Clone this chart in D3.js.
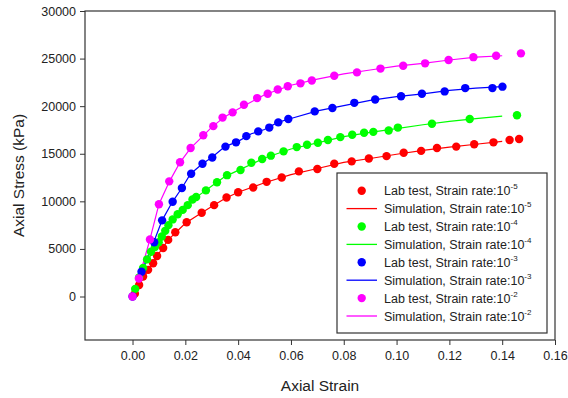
<!DOCTYPE html>
<html>
<head>
<meta charset="utf-8">
<script src="https://cdn.jsdelivr.net/npm/d3@7"></script>
<style>
  body { margin: 0; background: #fff; }
  svg text { font-family: "Liberation Sans", Arial, sans-serif; fill: #222; }
</style>
</head>
<body>
<div id="chart"></div>
<script>
// lab test points [strain, stress kPa]
const labRate5 = [[0.0009,300],[0.0025,1200],[0.004,2100],[0.0059,2800],[0.0078,3500],[0.0093,4250],[0.0116,5100],[0.0135,5950],[0.0162,6750],[0.0205,7800],[0.0262,8800],[0.0309,9600],[0.0356,10400],[0.04,10950],[0.0457,11450],[0.0508,12050],[0.0565,12500],[0.063,13150],[0.07,13400],[0.0764,13950],[0.083,14200],[0.0895,14500],[0.0962,14750],[0.1027,15100],[0.1093,15300],[0.1153,15600],[0.1226,15750],[0.1294,16000],[0.1367,16200],[0.1428,16450],[0.1464,16550]];
const labRate4 = [[0.001,800],[0.0025,2000],[0.004,3000],[0.0055,3900],[0.007,4700],[0.0085,5200],[0.0099,5700],[0.0111,6300],[0.0124,6900],[0.0136,7500],[0.0152,8100],[0.0171,8650],[0.019,9100],[0.0209,9600],[0.0227,10200],[0.0241,10450],[0.0278,11150],[0.032,12000],[0.0358,12750],[0.0409,13300],[0.045,14050],[0.0491,14450],[0.0524,14800],[0.0572,15250],[0.0622,15700],[0.0661,15950],[0.0702,16150],[0.074,16450],[0.0787,16750],[0.0832,17000],[0.0877,17200],[0.0912,17300],[0.097,17450],[0.1005,17750],[0.1134,18150],[0.1277,18650],[0.1456,19050]];
const labRate3 = [[0,0],[0.0034,2600],[0.0082,5700],[0.0112,8000],[0.0152,9950],[0.0187,11400],[0.0222,12900],[0.0265,13950],[0.0302,14600],[0.0352,15750],[0.0392,16200],[0.0431,16850],[0.0476,17350],[0.0518,17750],[0.0552,18300],[0.059,18650],[0.069,19450],[0.0757,19800],[0.084,20350],[0.0919,20700],[0.1017,21050],[0.1096,21300],[0.1182,21550],[0.126,21900],[0.1363,21900],[0.1401,22050]];
const labRate2 = [[0,0],[0.0024,1900],[0.0066,6000],[0.010,9700],[0.0139,12100],[0.018,14100],[0.022,15600],[0.0268,16950],[0.0306,17900],[0.0341,18800],[0.0379,19350],[0.0422,20150],[0.0472,20850],[0.0512,21300],[0.055,21750],[0.0588,22100],[0.0636,22400],[0.0679,22700],[0.0764,23200],[0.085,23550],[0.0939,23950],[0.1025,24250],[0.1108,24500],[0.1197,24850],[0.1291,25150],[0.1377,25300],[0.1471,25550]];

// simulation curves
const simRate5 = [[0,0],[0.0025,1200],[0.006,2850],[0.0093,4250],[0.0135,5950],[0.02,7700],[0.025,8600],[0.03,9450],[0.035,10300],[0.04,10950],[0.05,11950],[0.06,12800],[0.07,13450],[0.08,14100],[0.09,14500],[0.10,14950],[0.11,15350],[0.12,15700],[0.13,16000],[0.14,16300]];
const simRate4 = [[0,0],[0.004,3000],[0.0099,5700],[0.0124,6900],[0.015,8050],[0.02,9350],[0.025,10600],[0.03,11600],[0.035,12600],[0.04,13250],[0.05,14550],[0.06,15500],[0.07,16150],[0.08,16800],[0.09,17250],[0.10,17650],[0.11,18050],[0.12,18400],[0.13,18700],[0.14,18950]];
const simRate3 = [[0,0],[0.0034,2600],[0.008,5700],[0.0112,8000],[0.015,9900],[0.0187,11400],[0.022,12900],[0.0265,13950],[0.03,14600],[0.035,15750],[0.04,16300],[0.045,17100],[0.05,17550],[0.055,18300],[0.06,18700],[0.07,19500],[0.08,20050],[0.09,20600],[0.10,21000],[0.11,21300],[0.12,21650],[0.13,21900],[0.1401,22050]];
const simRate2 = [[0,0],[0.0024,1900],[0.0066,6000],[0.010,9700],[0.014,12100],[0.018,14100],[0.022,15600],[0.027,16950],[0.03,17800],[0.035,18900],[0.04,19700],[0.05,21200],[0.06,22200],[0.07,22850],[0.08,23400],[0.09,23800],[0.10,24200],[0.11,24500],[0.12,24850],[0.13,25150],[0.14,25300]];

const rateExps = ["-5", "-4", "-3", "-2"];
const colours = ["#ff0000", "#00ff00", "#0000ff", "#ff00ff"];
const xTicks = [0, 0.02, 0.04, 0.06, 0.08, 0.10, 0.12, 0.14, 0.16];
const yTicks = [0, 5000, 10000, 15000, 20000, 25000, 30000];

const labSets = [labRate5, labRate4, labRate3, labRate2];
const simSets = [simRate5, simRate4, simRate3, simRate2];

const width = 568, height = 398;
const plot = { left: 85, right: 555, top: 11, bottom: 340 };

const svg = d3.select("#chart").append("svg")
  .attr("width", width)
  .attr("height", height);

const x = d3.scaleLinear().domain([-0.018, 0.16]).range([plot.left, plot.right]);
const y = d3.scaleLinear().domain([-4570, 30000]).range([plot.bottom, plot.top]);

// axes (ticks outside the frame)
const xAxis = svg.append("g")
  .attr("transform", `translate(0,${plot.bottom})`)
  .call(d3.axisBottom(x).tickValues(xTicks).tickFormat(d3.format(".2f")).tickSize(5).tickPadding(6).tickSizeOuter(0));
const yAxis = svg.append("g")
  .attr("transform", `translate(${plot.left},0)`)
  .call(d3.axisLeft(y).tickValues(yTicks).tickFormat(d3.format("d")).tickSize(5).tickPadding(4).tickSizeOuter(0));

[xAxis, yAxis].forEach(a => {
  a.select(".domain").remove();
  a.selectAll(".tick line").attr("stroke", "#333");
  a.selectAll(".tick text").style("font-size", "12.5px").attr("fill", "#222");
});

// frame
svg.append("rect")
  .attr("x", plot.left).attr("y", plot.top)
  .attr("width", plot.right - plot.left)
  .attr("height", plot.bottom - plot.top)
  .attr("fill", "none")
  .attr("stroke", "#333")
  .attr("stroke-width", 1.2);

const line = d3.line()
  .x(d => x(d[0]))
  .y(d => y(d[1]));

// simulation lines
svg.append("g").selectAll("path")
  .data(simSets)
  .join("path")
  .attr("d", line)
  .attr("fill", "none")
  .attr("stroke", (d, i) => colours[i])
  .attr("stroke-width", 1.2);

// lab points
labSets.forEach((set, i) => {
  svg.append("g").selectAll("circle")
    .data(set)
    .join("circle")
    .attr("cx", d => x(d[0]))
    .attr("cy", d => y(d[1]))
    .attr("r", 4.2)
    .attr("fill", colours[i]);
});

// axis titles
svg.append("text")
  .attr("x", (plot.left + plot.right) / 2)
  .attr("y", 391)
  .attr("text-anchor", "middle")
  .style("font-size", "15.5px")
  .text("Axial Strain");

svg.append("text")
  .attr("transform", `translate(24,${(plot.top + plot.bottom) / 2}) rotate(-90)`)
  .attr("text-anchor", "middle")
  .style("font-size", "15.5px")
  .text("Axial Stress (kPa)");

// legend
const legend = svg.append("g");
legend.append("rect")
  .attr("x", 337).attr("y", 173)
  .attr("width", 210).attr("height", 160)
  .attr("fill", "#fff")
  .attr("stroke", "#333")
  .attr("stroke-width", 1.2);

const rows = [];
rateExps.forEach((e, i) => {
  rows.push({ kind: "lab", label: "Lab test, Strain rate:10", exp: e, colour: colours[i] });
  rows.push({ kind: "sim", label: "Simulation, Strain rate:10", exp: e, colour: colours[i] });
});

const rowY = d3.scalePoint().domain(d3.range(rows.length)).range([190.7, 316]);

const item = legend.selectAll("g.item")
  .data(rows)
  .join("g")
  .attr("class", "item")
  .attr("transform", (d, i) => `translate(0,${rowY(i)})`);

item.filter(d => d.kind === "lab").append("circle")
  .attr("cx", 361.7).attr("cy", 0).attr("r", 4.2)
  .attr("fill", d => d.colour);

item.filter(d => d.kind === "sim").append("line")
  .attr("x1", 346.5).attr("x2", 377)
  .attr("y1", 0).attr("y2", 0)
  .attr("stroke", d => d.colour)
  .attr("stroke-width", 1.3);

const label = item.append("text")
  .attr("x", 384)
  .attr("y", 4.5)
  .style("font-size", "12.5px");
label.append("tspan").text(d => d.label);
label.append("tspan")
  .attr("dy", -6)
  .style("font-size", "8px")
  .text(d => d.exp);
</script>
</body>
</html>
